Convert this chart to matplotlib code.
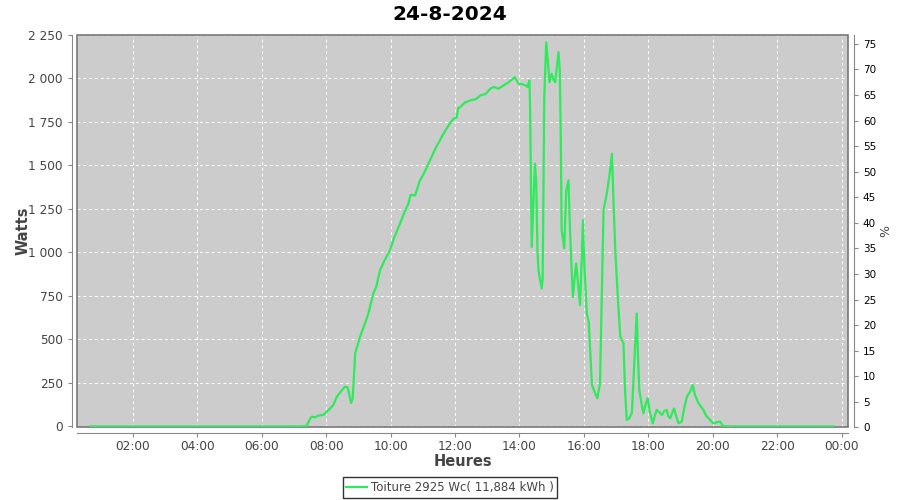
import matplotlib
matplotlib.use("Agg")
import matplotlib.pyplot as plt
from matplotlib.ticker import FuncFormatter, MultipleLocator
from matplotlib.patches import Rectangle

# data (hour of day, watts)
hours = [0.67, 2.0, 4.0, 6.0, 7.2, 7.39, 7.5, 7.55, 7.65, 7.75, 7.91, 8.05, 8.22,
         8.33, 8.45, 8.58, 8.66, 8.72, 8.77, 8.82, 8.9, 9.05, 9.18, 9.31, 9.46,
         9.55, 9.67, 9.8, 9.98, 10.1, 10.29, 10.45, 10.55, 10.62, 10.76, 10.85,
         10.91, 11.05, 11.22, 11.4, 11.64, 11.8, 11.95, 12.05, 12.1, 12.16, 12.3,
         12.47, 12.65, 12.78, 12.95, 13.09, 13.2, 13.35, 13.5, 13.65, 13.75, 13.86,
         13.97, 14.1, 14.2, 14.25, 14.31, 14.33, 14.38, 14.48, 14.52, 14.56, 14.59,
         14.69, 14.72, 14.77, 14.83, 14.88, 14.93, 15.0, 15.06, 15.11, 15.18, 15.21,
         15.25, 15.28, 15.31, 15.39, 15.45, 15.52, 15.57, 15.62, 15.66, 15.71, 15.76,
         15.82, 15.88, 15.93, 15.97, 16.02, 16.09, 16.15, 16.25, 16.35, 16.42, 16.5,
         16.55, 16.61, 16.71, 16.8, 16.87, 16.97, 17.05, 17.13, 17.23, 17.28, 17.33,
         17.4, 17.49, 17.56, 17.64, 17.68, 17.72, 17.8, 17.85, 17.92, 17.98, 18.05,
         18.14, 18.2, 18.26, 18.35, 18.42, 18.5, 18.57, 18.62, 18.68, 18.75, 18.8,
         18.88, 18.94, 19.04, 19.12, 19.2, 19.3, 19.38, 19.45, 19.56, 19.65, 19.71,
         19.8, 19.87, 20.02, 20.15, 20.23, 20.31, 20.5, 22.0, 23.75]
watts = [0, 0, 0, 0, 0, 2, 45, 56, 52, 62, 66, 90, 123,
         171, 200, 228, 225, 180, 135, 160, 421, 515, 580, 649, 764,
         800, 897, 950, 1012, 1080, 1165, 1240, 1280, 1330, 1327, 1380,
         1413, 1460, 1528, 1600, 1681, 1730, 1767, 1775, 1830, 1834, 1860,
         1872, 1880, 1901, 1910, 1939, 1950, 1940, 1958, 1975, 1990, 2006,
         1968, 1965, 1958, 1950, 1987, 1815, 1031, 1509, 1400, 1000, 897,
         792, 850, 1891, 2206, 2100, 1977, 2025, 1990, 1977, 2100, 2149,
         2050, 1700, 1127, 1022, 1350, 1413, 1127, 900, 744, 850, 936,
         820, 697, 950, 1184, 900, 649, 600, 238, 190, 162, 248,
         700, 1242, 1337, 1450, 1566, 1031, 750, 515, 477, 200, 37,
         45, 76, 350, 649, 400, 209, 120, 76, 130, 162, 80,
         18, 60, 95, 80, 66, 90, 95, 60, 47, 80, 104,
         50, 18, 28, 110, 171, 200, 238, 180, 133, 110, 95,
         60, 47, 18, 25, 28, 3, 0, 0, 0]

series_label = "Toiture 2925 Wc( 11,884 kWh )"
title = "24-8-2024"

grey_txt = "#444444"
green = "#2DEB5A"

fig = plt.figure(figsize=(9, 5), dpi=100)
ax = fig.add_axes([77.3 / 900, 1 - 427.3 / 500, (848.3 - 77.3) / 900, (427.3 - 34.7) / 500])
ax.set_facecolor("#CCCCCC")

ax.plot(hours, watts, color=green, lw=1.6, label=series_label, zorder=6)

ax.set_xlim(0.27, 24.21)
ax.set_ylim(-5, 2250)
ax.xaxis.set_major_locator(MultipleLocator(2))
ax.xaxis.set_major_formatter(FuncFormatter(lambda v, p: "%02d:00" % (int(round(v)) % 24)))
ax.yaxis.set_major_locator(MultipleLocator(250))
ax.yaxis.set_major_formatter(FuncFormatter(lambda v, p: "{:,}".format(int(v)).replace(",", " ")))

ax.grid(True, color="white", ls=(0, (3, 3)), lw=0.7)
ax.set_axisbelow(True)

for s in ["top", "right"]:
    ax.spines[s].set_visible(False)
for s in ["left", "bottom"]:
    ax.spines[s].set_position(("outward", 4))
    ax.spines[s].set_color("#888888")
ax.add_patch(Rectangle((0, 0), 1, 1, transform=ax.transAxes, fill=False,
                       edgecolor="#777777", lw=1.2, zorder=5, clip_on=False))

ax.tick_params(colors="#888888", labelcolor=grey_txt, labelsize=8.7, length=3)
ax.tick_params(axis="x", pad=2)
ax.set_xlabel("Heures", fontsize=10.5, fontweight="bold", color=grey_txt, labelpad=1)
ax.set_ylabel("Watts", fontsize=10.5, fontweight="bold", color=grey_txt, labelpad=-2)

# secondary % axis
ax2 = ax.twinx()
ax2.set_ylim(0, 76.8)
ax2.yaxis.set_major_locator(MultipleLocator(5))
for s in ["top", "left", "bottom"]:
    ax2.spines[s].set_visible(False)
ax2.spines["right"].set_position(("outward", 4))
ax2.spines["right"].set_color("#888888")
ax2.tick_params(colors="#888888", labelcolor="black", labelsize=7.5, length=3)
ax2.set_ylabel("%", fontsize=9, color=grey_txt, labelpad=2)

fig.suptitle(title, fontsize=14.5, fontweight="bold", y=0.99)

leg = fig.legend(loc="center", bbox_to_anchor=(0.5, 0.025), fontsize=8.5,
                 frameon=True, fancybox=False, handlelength=1.8, handletextpad=0.3,
                 borderpad=0.3)
leg.get_frame().set_edgecolor("black")
leg.get_frame().set_linewidth(1.0)
for t in leg.get_texts():
    t.set_color(grey_txt)

fig.savefig("out.png", dpi=100)
